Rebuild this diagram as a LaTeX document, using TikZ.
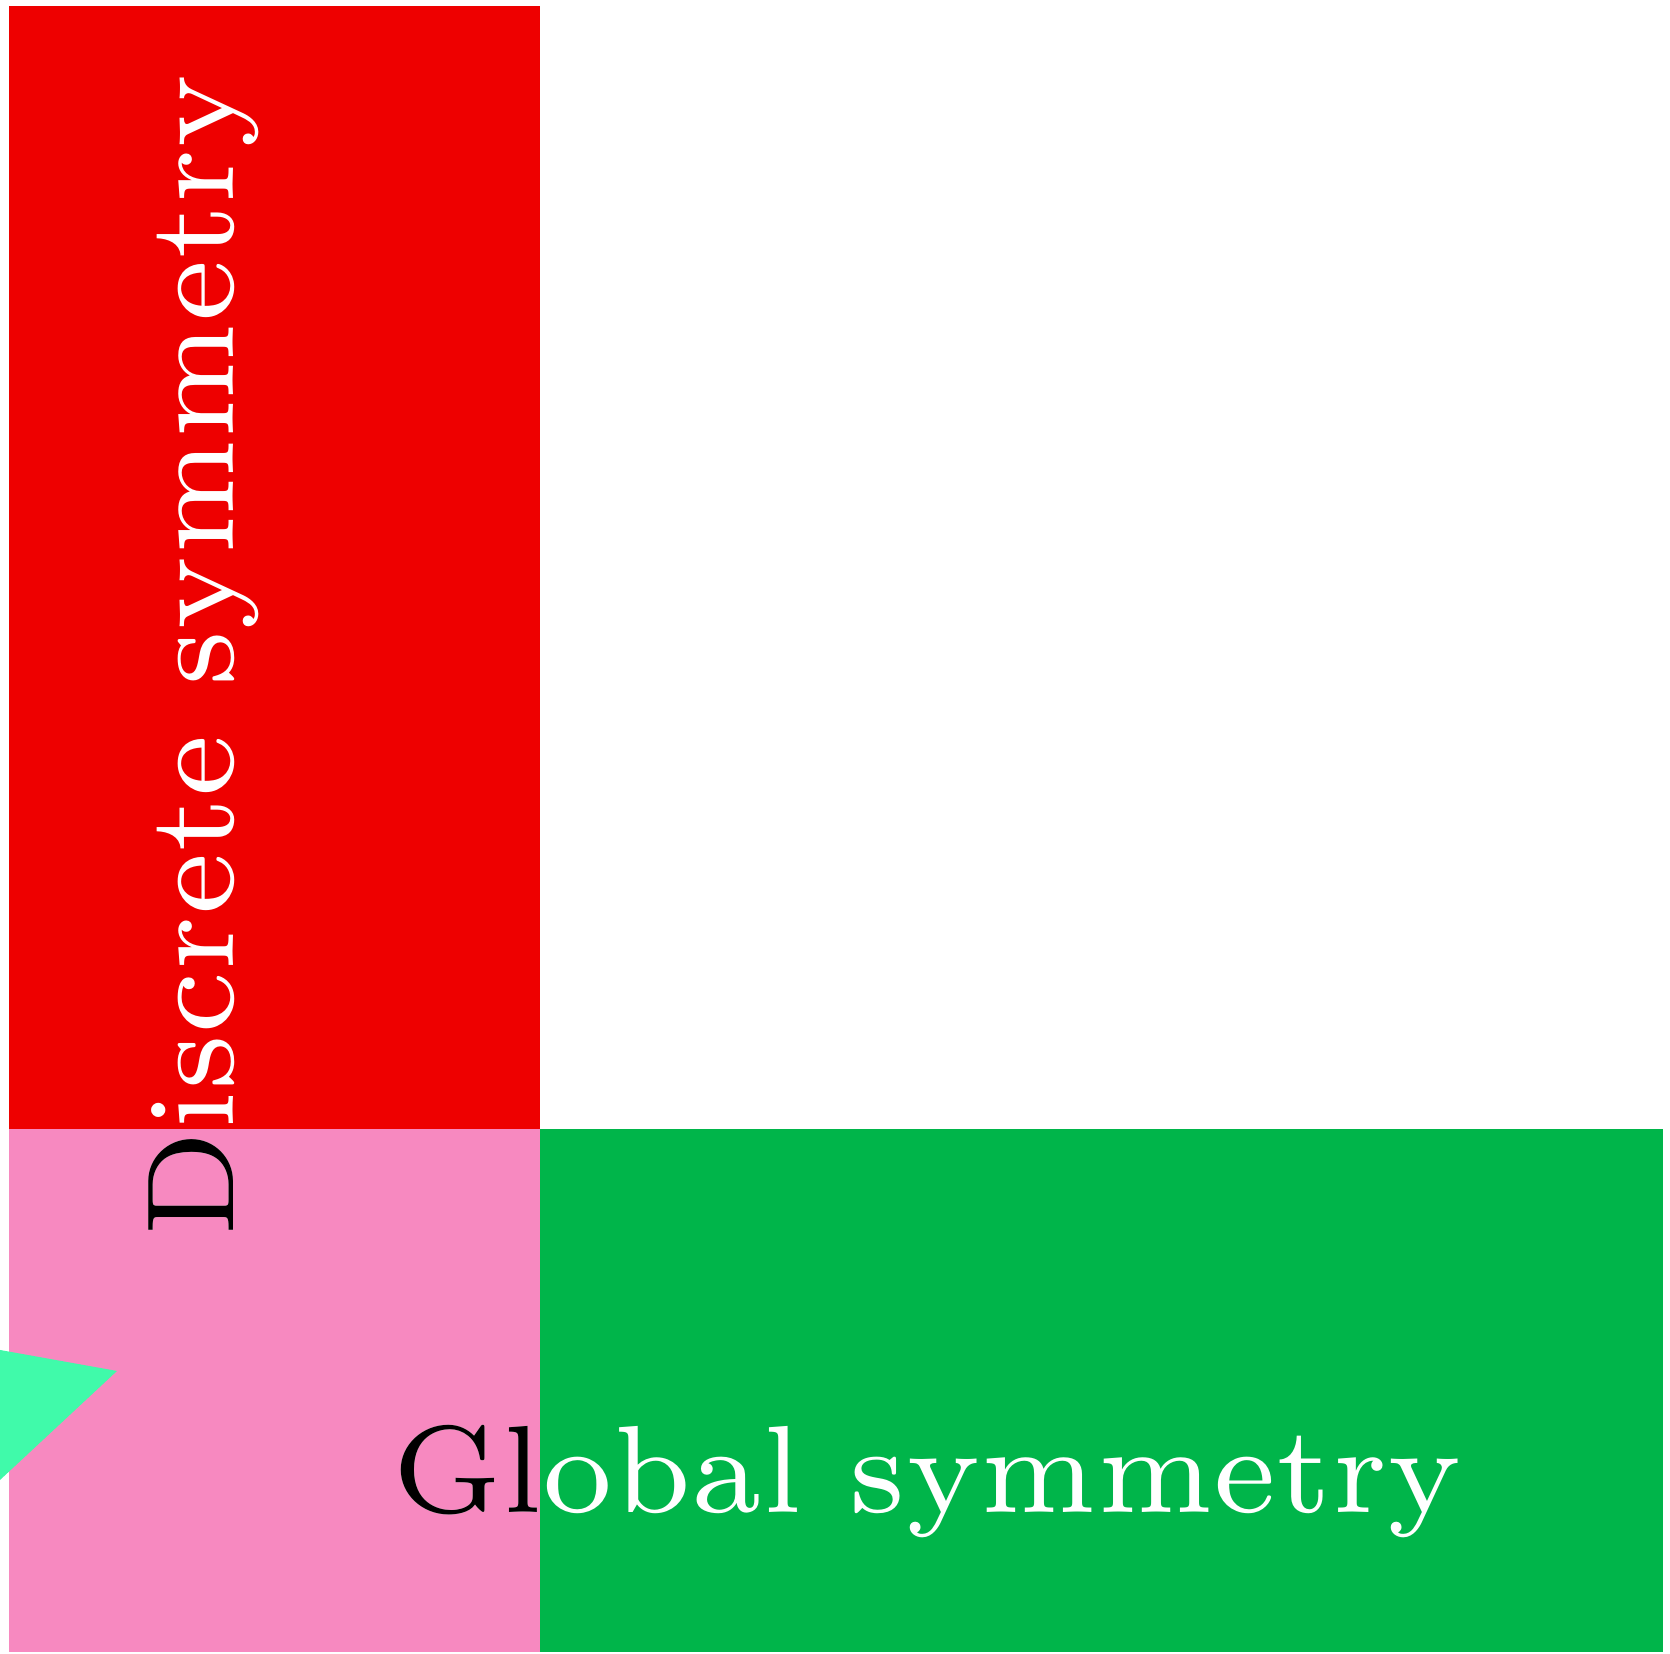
\documentclass[tikz,border=0pt]{standalone}
\usepackage{fontspec}
\usepackage{tikz}
\usetikzlibrary{positioning}
\definecolor{discred}{RGB}{238,0,0}
\definecolor{overlap}{RGB}{247,137,192}
\definecolor{globgreen}{RGB}{0,181,74}
\definecolor{mint}{RGB}{64,250,170}
\tikzset{
  symlbl/.style={inner sep=0pt,font=\fontsize{7}{8.4}\selectfont,scale=2.523},
}

\begin{document}
\begin{tikzpicture}[x=1mm,y=1mm]
  \useasboundingbox (0,0) rectangle (83.5,82.7);
  % the two regions and their overlap
  \fill[discred]   (0.43,26.25) rectangle (27.0,82.41);
  \fill[overlap]   (0.43,0.1)   rectangle (27.0,26.25);
  \fill[globgreen] (27.0,0.1)   rectangle (83.15,26.25);
  \fill[mint] (0,15.2) -- (5.85,14.15) -- (0,8.7) -- cycle;

  % labels, white everywhere ...
  \node[symlbl,text=white,rotate=90,anchor=base west] (discrete) at (11.65,20.65)
    {Discrete symmetry};
  \node[symlbl,text=white,anchor=base west] (global) at (19.45,7.05)
    {Global symmetry};
  % ... and black where they cross the overlap
  \begin{scope}
    \clip (0.43,0.1) rectangle (27.0,26.25);
    \node[symlbl,text=black,rotate=90,anchor=base west] (discretein) at (11.65,20.65)
      {Discrete symmetry};
    \node[symlbl,text=black,anchor=base west] (globalin) at (19.45,7.05)
      {Global symmetry};
  \end{scope}
\end{tikzpicture}
\end{document}
